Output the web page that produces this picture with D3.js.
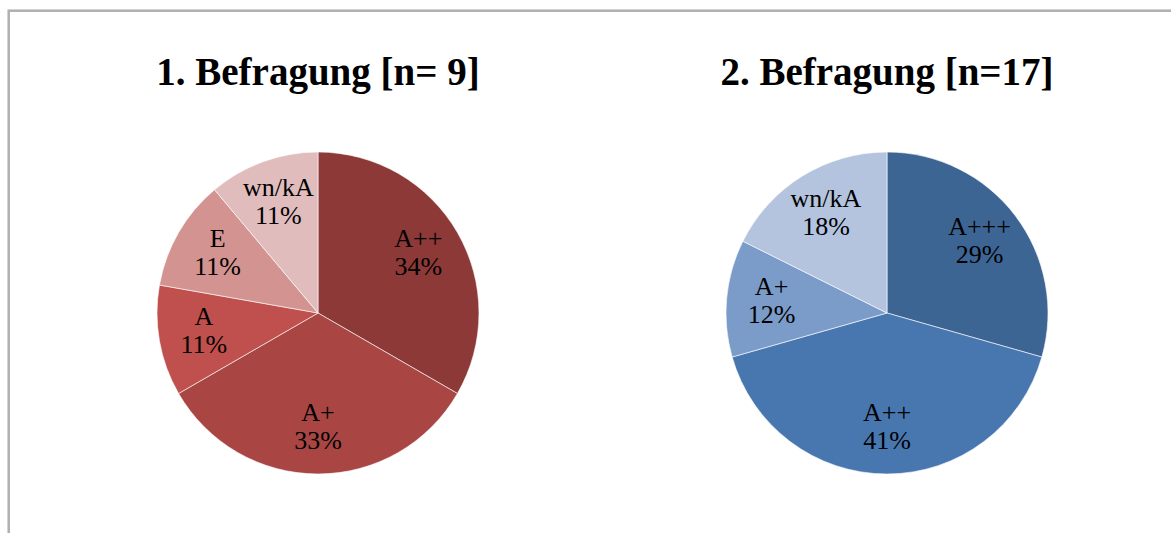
<!DOCTYPE html>
<html>
<head>
<meta charset="utf-8">
<script src="https://cdn.jsdelivr.net/npm/d3@7"></script>
<style>
  body { margin: 0; background: #fff; }
  svg text { font-family: "Liberation Serif", "DejaVu Serif", serif; }
</style>
</head>
<body>
<div id="chart"></div>
<script>
// survey 1 (n = 9)
var titles = ["1. Befragung [n= 9]", "2. Befragung [n=17]"];

var survey1Cats = ["A++", "A+", "A", "E", "wn/kA"];
var survey1Counts = [3, 3, 1, 1, 1];
var survey1Pct = ["34%", "33%", "11%", "11%", "11%"];
var survey1Colors = ["#8c3937", "#a94644", "#c0504d", "#d39391", "#e1bcbc"];

// survey 2 (n = 17)
var survey2Cats = ["A+++", "A++", "A+", "wn/kA"];
var survey2Counts = [5, 7, 2, 3];
var survey2Pct = ["29%", "41%", "12%", "18%"];
var survey2Colors = ["#3d6594", "#4877b0", "#7b9bc9", "#b4c4df"];

var width = 1171, height = 533,
    radius = 161;

var svg = d3.select("#chart").append("svg")
    .attr("width", width)
    .attr("height", height);

// chart area border (right and bottom edges run off the page)
svg.append("rect")
    .attr("x", 8.7).attr("y", 10.7)
    .attr("width", 1300).attr("height", 700)
    .style("fill", "none")
    .style("stroke", "#b0b0b0")
    .style("stroke-width", 2.5);

var pies = [
  {title: titles[0], cats: survey1Cats, counts: survey1Counts, pct: survey1Pct, colors: survey1Colors},
  {title: titles[1], cats: survey2Cats, counts: survey2Counts, pct: survey2Pct, colors: survey2Colors}
];

var centerX = d3.scalePoint().domain([0, 1]).range([318, 887]);
var centerY = 313;

var pie = d3.pie().sort(null).value(function(d) { return d; });
var arc = d3.arc().innerRadius(0).outerRadius(radius);
var labelArc = d3.arc().innerRadius(radius * 0.72).outerRadius(radius * 0.72);

pies.forEach(function(p, i) {
  var cx = centerX(i);
  var g = svg.append("g")
      .attr("transform", "translate(" + cx + "," + centerY + ")");

  var color = d3.scaleOrdinal().domain(p.cats).range(p.colors);
  var arcs = pie(p.counts);

  g.selectAll("path")
      .data(arcs)
    .enter().append("path")
      .attr("d", arc)
      .style("fill", function(d, j) { return color(p.cats[j]); })
      .style("stroke", "#fff")
      .style("stroke-opacity", 0.6)
      .style("stroke-width", 1);

  var lbl = g.selectAll("text.lbl")
      .data(arcs)
    .enter().append("text")
      .attr("class", "lbl")
      .attr("text-anchor", "middle")
      .attr("transform", function(d) { return "translate(" + labelArc.centroid(d) + ")"; })
      .style("font-size", "26px")
      .style("fill", "#000");

  lbl.append("tspan")
      .attr("x", 0).attr("dy", "-0.3em")
      .text(function(d, j) { return p.cats[j]; });
  lbl.append("tspan")
      .attr("x", 0).attr("dy", "1.08em")
      .text(function(d, j) { return p.pct[j]; });

  svg.append("text")
      .attr("x", cx).attr("y", 85)
      .attr("text-anchor", "middle")
      .style("font-size", "39px")
      .style("font-weight", "bold")
      .style("fill", "#000")
      .text(p.title);
});
</script>
</body>
</html>
